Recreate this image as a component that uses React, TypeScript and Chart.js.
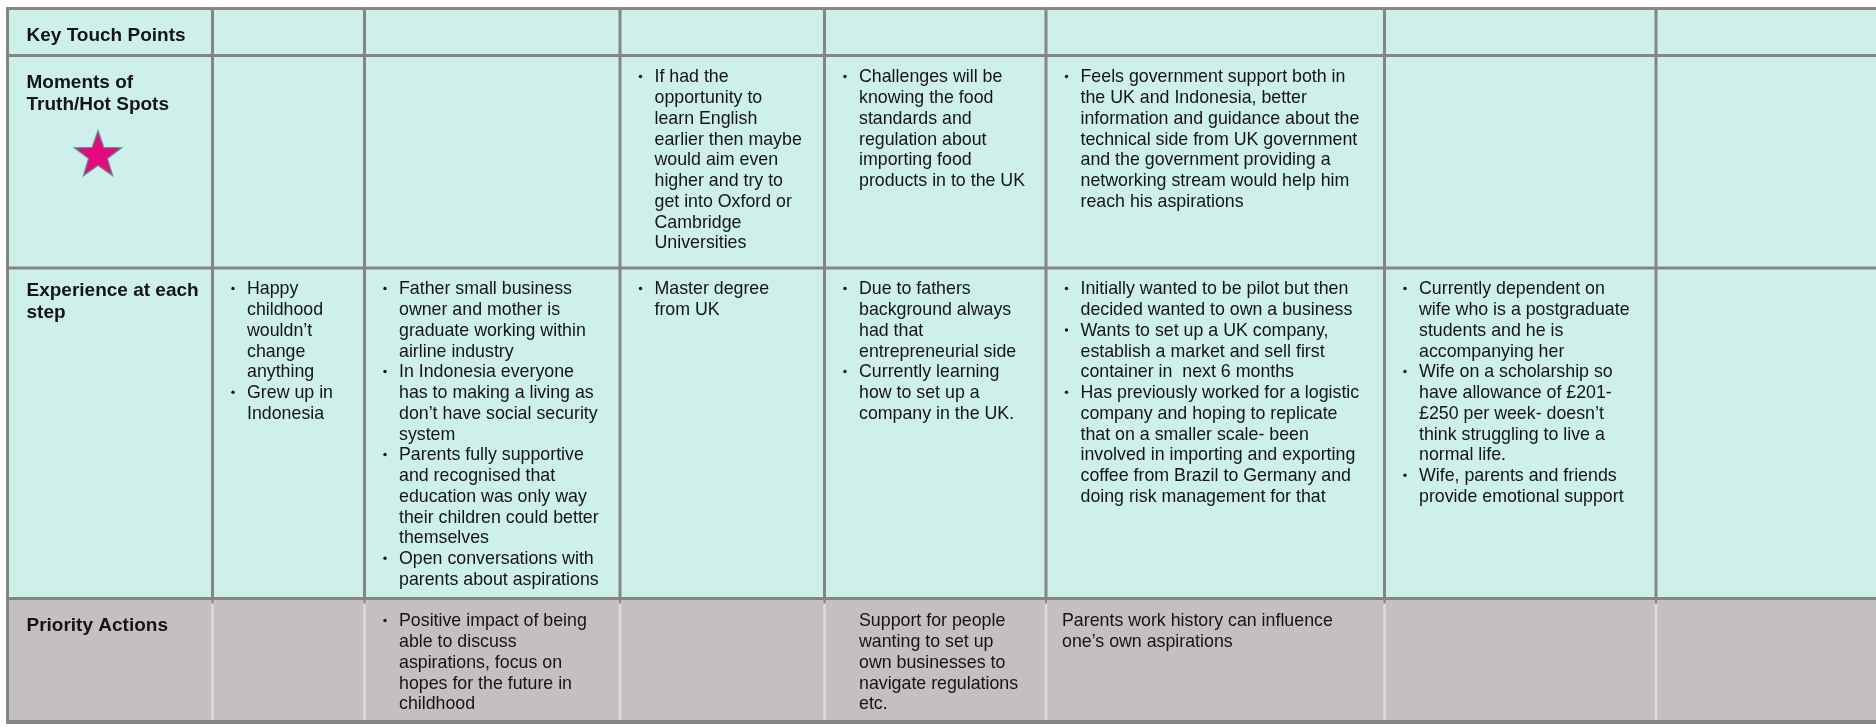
import React, { useEffect, useRef } from "react";
import { Chart, registerables } from "chart.js";

Chart.register(...registerables);

// ---------- canvas / grid layout ----------
const CANVAS_W = 1876;
const CANVAS_H = 727;
const colEdges = [7.5, 212.5, 364.5, 620, 824.5, 1046, 1384.5, 1656, 1876];
const rowEdges = [8.5, 55.5, 268, 598.5, 722];

// ---------- content ----------
const rowLabels: string[][] = [
  ["Key Touch Points"],
  ["Moments of", "Truth/Hot Spots"],
  ["Experience at each", "step"],
  ["Priority Actions"],
];

// each cell: list of paragraphs; a paragraph whose first line starts with "•" is a bullet item
const touchPointCells: string[][][] = [[], [], [], [], [], [], []];

const momentsCells: string[][][] = [
  [],
  [],
  [["•If had the", "opportunity to", "learn English", "earlier then maybe", "would aim even", "higher and try to", "get into Oxford or", "Cambridge", "Universities"]],
  [["•Challenges will be", "knowing the food", "standards and", "regulation about", "importing food", "products in to the UK"]],
  [["•Feels government support both in", "the UK and Indonesia, better", "information and guidance about the", "technical side from UK government", "and the government providing a", "networking stream would help him", "reach his aspirations"]],
  [],
  [],
];

const experienceCells: string[][][] = [
  [
    ["•Happy", "childhood", "wouldn’t", "change", "anything"],
    ["•Grew up in", "Indonesia"],
  ],
  [
    ["•Father small business", "owner and mother is", "graduate working within", "airline industry"],
    ["•In Indonesia everyone", "has to making a living as", "don’t have social security", "system"],
    ["•Parents fully supportive", "and recognised that", "education was only way", "their children could better", "themselves"],
    ["•Open conversations with", "parents about aspirations"],
  ],
  [["•Master degree", "from UK"]],
  [
    ["•Due to fathers", "background always", "had that", "entrepreneurial side"],
    ["•Currently learning", "how to set up a", "company in the UK."],
  ],
  [
    ["•Initially wanted to be pilot but then", "decided wanted to own a business"],
    ["•Wants to set up a UK company,", "establish a market and sell first", "container in  next 6 months"],
    ["•Has previously worked for a logistic", "company and hoping to replicate", "that on a smaller scale- been", "involved in importing and exporting", "coffee from Brazil to Germany and", "doing risk management for that"],
  ],
  [
    ["•Currently dependent on", "wife who is a postgraduate", "students and he is", "accompanying her"],
    ["•Wife on a scholarship so", "have allowance of £201-", "£250 per week- doesn’t", "think struggling to live a", "normal life."],
    ["•Wife, parents and friends", "provide emotional support"],
  ],
  [],
];

const priorityCells: string[][][] = [
  [],
  [["•Positive impact of being", "able to discuss", "aspirations, focus on", "hopes for the future in", "childhood"]],
  [],
  [["Support for people", "wanting to set up", "own businesses to", "navigate regulations", "etc."]],
  [["Parents work history can influence", "one’s own aspirations"]],
  [],
  [],
];

const tableRows = [touchPointCells, momentsCells, experienceCells, priorityCells];

// ---------- styles ----------
const MINT = "rgb(206, 240, 234)";
const GREY_ROW = "rgb(196, 192, 193)";
const LINE = "#858585";
const LINE_LIGHT = "#dcdcdc";
const TEXT = "#141414";
const BODY_FONT = '17.8px "Liberation Sans", Arial, sans-serif';
const LABEL_FONT = 'bold 19px "Liberation Sans", Arial, sans-serif';
const BODY_LH = 20.75;
const LABEL_LH = 22;
const labelFirstOffset = [26.5, 26.2, 21.3, 26.5];
const bodyFirstOffset = [21, 21, 20.5, 22];
const bulletOffset = 20.5;
const textOffset = 34.5;
const plainIndent: Record<string, number> = { "3-4": 34.5, "3-5": 16 };

function makeStar(R: number): HTMLCanvasElement {
  const pad = 3;
  const size = Math.ceil(2 * R + 2 * pad);
  const c = document.createElement("canvas");
  c.width = size;
  c.height = size;
  const g = c.getContext("2d")!;
  const cx = size / 2;
  const cy = size / 2 + R * 0.1;
  const r = R * 0.4;
  g.beginPath();
  for (let i = 0; i < 10; i++) {
    const rad = i % 2 === 0 ? R : r;
    const a = -Math.PI / 2 + (i * Math.PI) / 5;
    const px = cx + rad * Math.cos(a);
    const py = cy + rad * Math.sin(a);
    if (i === 0) g.moveTo(px, py);
    else g.lineTo(px, py);
  }
  g.closePath();
  g.fillStyle = "#e6097c";
  g.fill();
  g.lineWidth = 1.2;
  g.strokeStyle = "#4f9e9b";
  g.stroke();
  return c;
}

const tablePlugin = {
  id: "tableDraw",
  beforeDatasetsDraw(chart: any) {
    const { ctx, scales } = chart;
    const xs = scales.x;
    const ys = scales.y;
    const px = (v: number) => xs.getPixelForValue(v);
    const py = (v: number) => ys.getPixelForValue(v);
    const lastCol = colEdges.length - 1;
    const nRows = rowEdges.length - 1;
    ctx.save();

    // backgrounds
    for (let r = 0; r < nRows; r++) {
      ctx.fillStyle = r === nRows - 1 ? GREY_ROW : MINT;
      ctx.fillRect(px(colEdges[0]), py(rowEdges[r]), px(colEdges[lastCol]) - px(colEdges[0]), py(rowEdges[r + 1]) - py(rowEdges[r]));
    }

    // vertical lines
    for (let c = 0; c < lastCol; c++) {
      const x = px(colEdges[c]);
      ctx.strokeStyle = LINE;
      ctx.lineWidth = 3;
      ctx.beginPath();
      ctx.moveTo(x, py(rowEdges[0]));
      ctx.lineTo(x, py(rowEdges[c === 0 ? nRows : nRows - 1]));
      ctx.stroke();
      if (c > 0) {
        ctx.strokeStyle = LINE_LIGHT;
        ctx.lineWidth = 2.5;
        ctx.beginPath();
        ctx.moveTo(x, py(rowEdges[nRows - 1]) + 5);
        ctx.lineTo(x, py(rowEdges[nRows]));
        ctx.stroke();
        ctx.strokeStyle = LINE;
        ctx.lineWidth = 2;
        ctx.beginPath();
        ctx.moveTo(x, py(rowEdges[nRows - 1]));
        ctx.lineTo(x, py(rowEdges[nRows - 1]) + 5);
        ctx.stroke();
      }
    }

    // horizontal lines
    for (let r = 0; r <= nRows; r++) {
      const y = py(rowEdges[r]);
      ctx.strokeStyle = LINE;
      ctx.lineWidth = r === nRows ? 4 : 3;
      ctx.beginPath();
      ctx.moveTo(px(colEdges[0]) - 1.5, y);
      ctx.lineTo(px(colEdges[lastCol]), y);
      ctx.stroke();
    }

    // labels
    ctx.fillStyle = TEXT;
    ctx.textBaseline = "middle";
    ctx.textAlign = "left";
    ctx.font = LABEL_FONT;
    rowLabels.forEach((lines, r) => {
      lines.forEach((t, i) => {
        ctx.fillText(t, px(colEdges[0]) + 19, py(rowEdges[r]) + labelFirstOffset[r] + i * LABEL_LH + 1);
      });
    });

    // cells
    ctx.font = BODY_FONT;
    tableRows.forEach((cells, r) => {
      cells.forEach((paras, ci) => {
        const col = ci + 1;
        const left = px(colEdges[col]);
        let y = py(rowEdges[r]) + bodyFirstOffset[r];
        paras.forEach((para) => {
          para.forEach((raw, li) => {
            let t = raw;
            let x = left + textOffset;
            if (li === 0 && t.startsWith("•")) {
              t = t.slice(1);
              ctx.beginPath();
              ctx.arc(left + bulletOffset, y, 1.7, 0, Math.PI * 2);
              ctx.fill();
            } else if (!para[0].startsWith("•")) {
              x = left + (plainIndent[`${r}-${col}`] ?? textOffset);
            }
            ctx.fillText(t, x, y + 1);
            y += BODY_LH;
          });
        });
      });
    });

    ctx.restore();
  },
};

export default function App() {
  const ref = useRef<HTMLCanvasElement | null>(null);
  useEffect(() => {
    if (!ref.current) return;
    const starR = 25;
    const starImg = makeStar(starR);
    const starPoint = { x: colEdges[0] + 90.5, y: rowEdges[1] + 97.5 };
    const chart = new Chart(ref.current, {
      type: "scatter",
      data: {
        datasets: [
          {
            data: [starPoint],
            pointStyle: starImg as any,
            pointRadius: starR,
            pointHoverRadius: starR,
            clip: false as any,
          },
        ],
      },
      options: {
        responsive: false,
        animation: false,
        events: [],
        layout: { padding: 0, autoPadding: false } as any,
        plugins: { legend: { display: false }, tooltip: { enabled: false } },
        scales: {
          x: { type: "linear", min: 0, max: CANVAS_W, display: false },
          y: { type: "linear", min: 0, max: CANVAS_H, reverse: true, display: false },
        },
      },
      plugins: [tablePlugin],
    });
    return () => chart.destroy();
  }, []);
  return (
    <div style={{ position: "fixed", left: 0, top: 0, width: CANVAS_W, height: CANVAS_H, background: "#fff" }}>
      <canvas ref={ref} width={CANVAS_W} height={CANVAS_H} style={{ display: "block", width: CANVAS_W, height: CANVAS_H }} />
    </div>
  );
}
